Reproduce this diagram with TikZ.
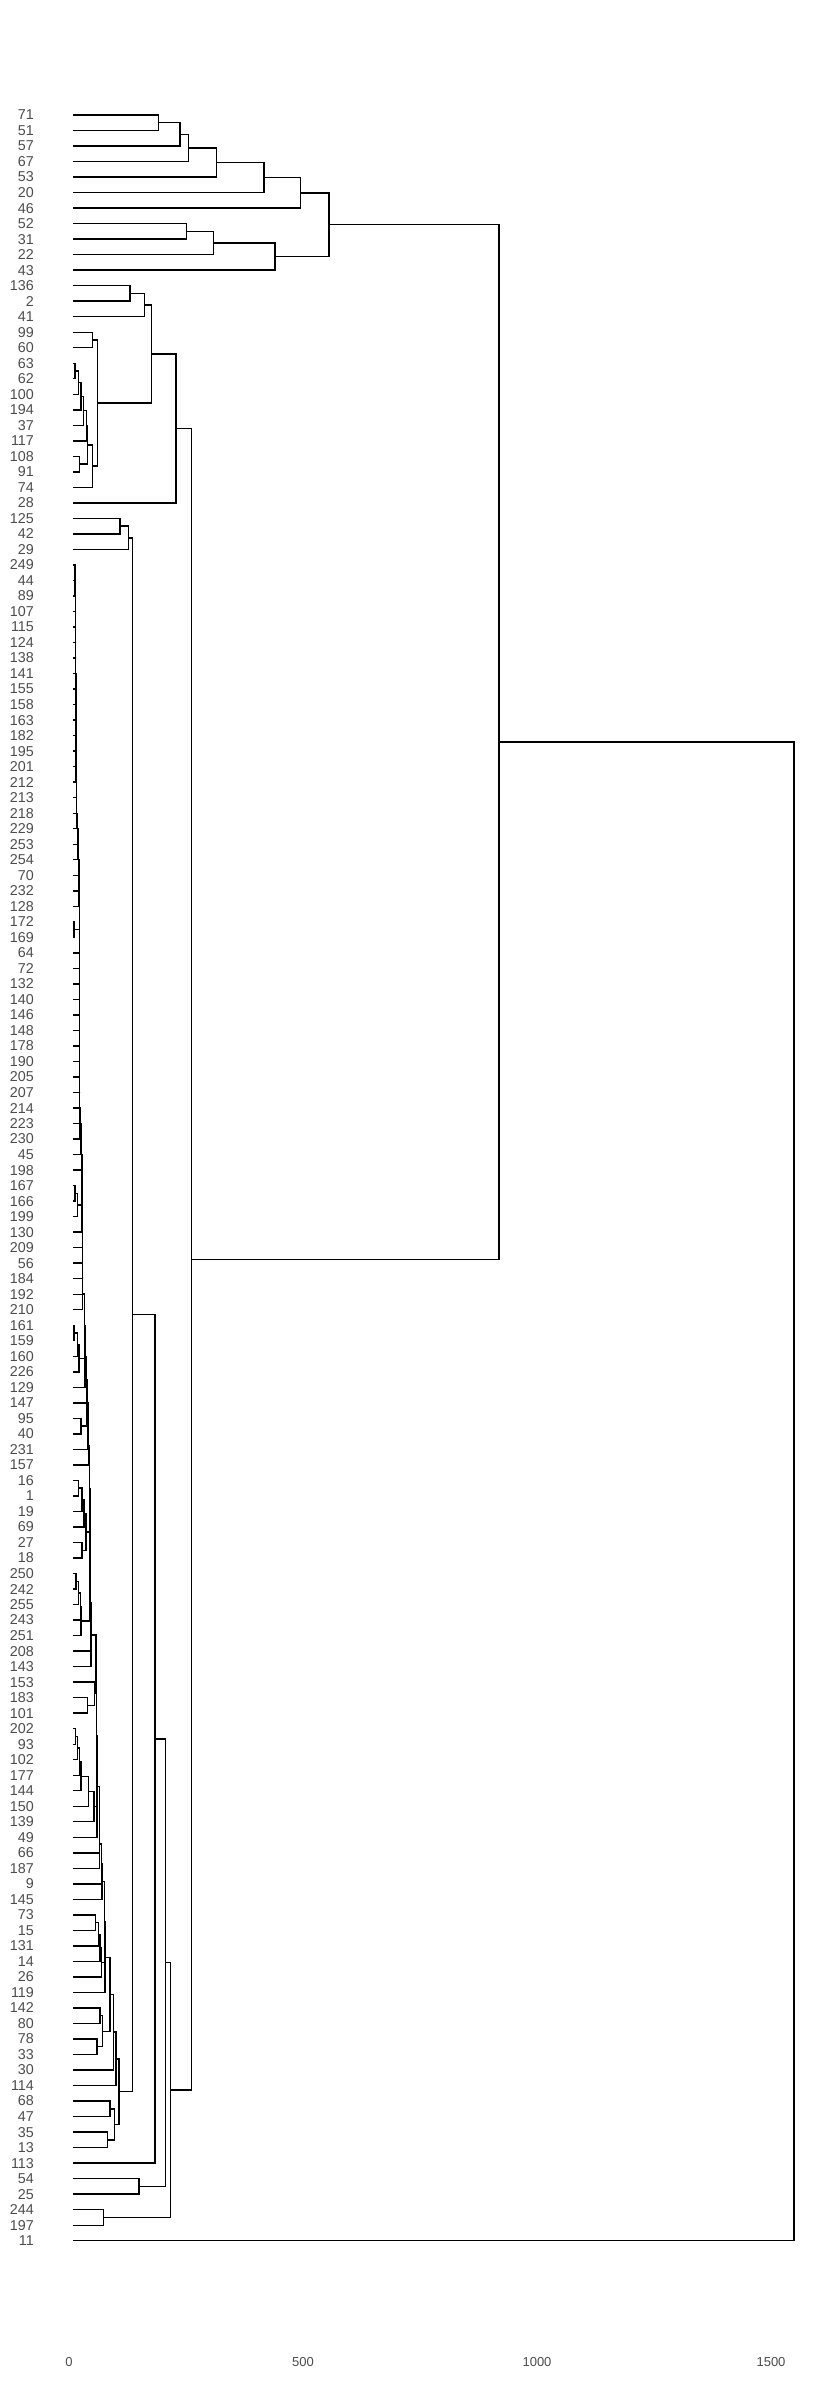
\documentclass[tikz,border=0pt]{standalone}
\usepackage{fontspec}
\setmainfont{Liberation Sans}
\usetikzlibrary{calc}
\definecolor{labgray}{RGB}{77,77,77}
\newcommand\mg[4]{%
  \path let \p1=(#2), \p2=(#3) in (#4pt,{0.5*\y1+0.5*\y2}) coordinate (#1);
  \draw[dline] (#2) -| (#1) |- (#3);
}
\begin{document}
\begin{tikzpicture}[x=1pt,y=1pt,
  dline/.style={line width=1.4pt, black},
  lab/.style={anchor=east, inner sep=0pt, text=labgray, font=\fontsize{14.3}{14.3}\selectfont},
  axl/.style={anchor=center, inner sep=0pt, text=labgray, font=\fontsize{13}{13}\selectfont}]
\useasboundingbox[fill=white] (0,0) rectangle (840,-2400);
\foreach \lab [count=\i] in {71,51,57,67,53,20,46,52,31,22,43,136,2,41,99,60,63,62,100,194,37,117,108,91,74,28,125,42,29,249,44,89,107,115,124,138,141,155,158,163,182,195,201,212,213,218,229,253,254,70,232,128,172,169,64,72,132,140,146,148,178,190,205,207,214,223,230,45,198,167,166,199,130,209,56,184,192,210,161,159,160,226,129,147,95,40,231,157,16,1,19,69,27,18,250,242,255,243,251,208,143,153,183,101,202,93,102,177,144,150,139,49,66,187,9,145,73,15,131,14,26,119,142,80,78,33,30,114,68,47,35,13,113,54,25,244,197,11}{
  \coordinate (L\lab) at (73.3,{-115-(\i-1)*15.516});
  \node[lab] (T\lab) at (34,{-115-(\i-1)*15.516}) {\lab};
}
% cluster A
\mg{a1}{L71}{L51}{158.3}
\mg{a2}{a1}{L57}{180}
\mg{a3}{a2}{L67}{188.3}
\mg{a4}{a3}{L53}{216.7}
\mg{a5}{a4}{L20}{264}
\mg{a6}{a5}{L46}{300.7}
\mg{a7}{L52}{L31}{186.7}
\mg{a8}{a7}{L22}{213.7}
\mg{a9}{a8}{L43}{275}
\mg{a10}{a6}{a9}{329}
% cluster B
\mg{b1}{L136}{L2}{130}
\mg{b2}{b1}{L41}{144.3}
\mg{n1}{L63}{L62}{75}
\mg{n2}{n1}{L100}{78.7}
\mg{n3}{n2}{L194}{81}
\mg{n4}{n3}{L37}{83.3}
\mg{n5}{n4}{L117}{86.7}
\mg{n6}{L108}{L91}{79.3}
\mg{n7}{n5}{n6}{87.7}
\mg{n8}{n7}{L74}{92.3}
\mg{n9}{L99}{L60}{92.7}
\mg{n10}{n9}{n8}{97.7}
\mg{b3}{b2}{n10}{151.7}
\mg{b4}{b3}{L28}{176}
% cluster C
\mg{c1}{L125}{L42}{120}
\mg{c2}{c1}{L29}{128.3}
% cluster D chain
\mg{d1}{L249}{L44}{75.0}
\mg{d2}{d1}{L89}{75.15}
\mg{d3}{d2}{L107}{75.25}
\mg{d4}{d3}{L115}{75.35}
\mg{d5}{d4}{L124}{75.45}
\mg{d6}{d5}{L138}{75.55}
\mg{d7}{d6}{L141}{75.65}
\mg{d8}{d7}{L155}{75.75}
\mg{d9}{d8}{L158}{75.85}
\mg{d10}{d9}{L163}{75.95}
\mg{d11}{d10}{L182}{76.0}
\mg{d12}{d11}{L195}{76.05}
\mg{d13}{d12}{L201}{76.1}
\mg{d14}{d13}{L212}{76.15}
\mg{d15}{d14}{L213}{76.2}
\mg{d16}{d15}{L218}{76.25}
\mg{d17}{d16}{L229}{76.4}
\mg{d18}{d17}{L253}{77.3}
\mg{d19}{d18}{L254}{78.0}
\mg{d20}{d19}{L70}{78.5}
\mg{d21}{d20}{L232}{79.0}
\mg{d22}{d21}{L128}{79.1}
\mg{p1}{L172}{L169}{74.0}
\mg{d23}{d22}{p1}{79.2}
\mg{d24}{d23}{L64}{79.25}
\mg{d25}{d24}{L72}{79.3}
\mg{d26}{d25}{L132}{79.3}
\mg{d27}{d26}{L140}{79.35}
\mg{d28}{d27}{L146}{79.35}
\mg{d29}{d28}{L148}{79.4}
\mg{d30}{d29}{L178}{79.4}
\mg{d31}{d30}{L190}{79.45}
\mg{d32}{d31}{L205}{79.45}
\mg{d33}{d32}{L207}{79.5}
\mg{d34}{d33}{L214}{79.5}
\mg{d35}{d34}{L223}{79.6}
\mg{d36}{d35}{L230}{79.8}
\mg{d37}{d36}{L45}{81.0}
\mg{d38}{d37}{L198}{81.2}
\mg{q1}{L167}{L166}{75.0}
\mg{q2}{q1}{L199}{77.5}
\mg{d39}{d38}{q2}{82.0}
\mg{d40}{d39}{L130}{82.1}
\mg{d41}{d40}{L209}{82.2}
\mg{d42}{d41}{L56}{82.3}
\mg{d43}{d42}{L184}{82.4}
\mg{d44}{d43}{L192}{82.5}
\mg{d45}{d44}{L210}{82.6}
\mg{r1}{L161}{L159}{74.0}
\mg{r2}{r1}{L160}{77.3}
\mg{r3}{r2}{L226}{79.0}
\mg{d46}{d45}{r3}{84.3}
\mg{d47}{d46}{L129}{85.0}
\mg{d48}{d47}{L147}{86.5}
\mg{s1}{L95}{L40}{81.0}
\mg{d49}{d48}{s1}{86.8}
\mg{d50}{d49}{L231}{88.0}
\mg{d51}{d50}{L157}{88.2}
\mg{t1}{L16}{L1}{78.5}
\mg{t2}{t1}{L19}{82.0}
\mg{t3}{t2}{L69}{84.0}
\mg{t4}{L27}{L18}{82.0}
\mg{t5}{t3}{t4}{86.0}
\mg{d52}{d51}{t5}{89.3}
\mg{u1}{L250}{L242}{76.0}
\mg{u2}{u1}{L255}{78.5}
\mg{u3}{u2}{L243}{80.2}
\mg{u4}{u3}{L251}{81.0}
\mg{d53}{d52}{u4}{90.0}
\mg{d54}{d53}{L208}{90.3}
\mg{d55}{d54}{L143}{91.0}
\mg{v1}{L183}{L101}{87.5}
\mg{v2}{L153}{v1}{94.5}
\mg{d56}{d55}{v2}{96.0}
\mg{w1}{L202}{L93}{75.3}
\mg{w2}{w1}{L102}{77.3}
\mg{w3}{w2}{L177}{79.5}
\mg{w4}{w3}{L144}{81.0}
\mg{w5}{w4}{L150}{88.3}
\mg{w6}{w5}{L139}{94.0}
\mg{d57}{d56}{w6}{96.6}
\mg{d58}{d57}{L49}{97.0}
\mg{d59}{d58}{L66}{99.3}
\mg{d60}{d59}{L187}{99.5}
\mg{d61}{d60}{L9}{101.7}
\mg{d62}{d61}{L145}{102.0}
\mg{h1}{L73}{L15}{95.7}
\mg{h2}{h1}{L131}{98.3}
\mg{h3}{h2}{L14}{100.0}
\mg{h4}{h3}{L26}{101.7}
\mg{d63}{d62}{h4}{104.3}
\mg{d64}{d63}{L119}{105.0}
\mg{k1}{L142}{L80}{100.0}
\mg{k2}{L78}{L33}{97.0}
\mg{k3}{k1}{k2}{102.3}
\mg{d65}{d64}{k3}{110.0}
\mg{d66}{d65}{L30}{113.3}
\mg{d67}{d66}{L114}{116.0}
\mg{m1}{L68}{L47}{110.0}
\mg{m2}{L35}{L13}{107.3}
\mg{m3}{m1}{m2}{114.3}
\mg{d68}{d67}{m3}{119.0}
% upper joins
\mg{e1}{c2}{d68}{132.7}
\mg{e2}{e1}{L113}{155.0}
\mg{f1}{L54}{L25}{139.0}
\mg{e3}{e2}{f1}{165.7}
\mg{g1}{L244}{L197}{103.7}
\mg{e4}{e3}{g1}{170.7}
\mg{bb}{b4}{e4}{191.7}
\mg{ab}{a10}{bb}{499}
\mg{root}{ab}{L11}{794}
% axis labels
\node[axl] (x0) at (69,-2362) {0};
\node[axl] (x500) at (303,-2362) {500};
\node[axl] (x1000) at (537,-2362) {1000};
\node[axl] (x1500) at (771,-2362) {1500};
\end{tikzpicture}
\end{document}
